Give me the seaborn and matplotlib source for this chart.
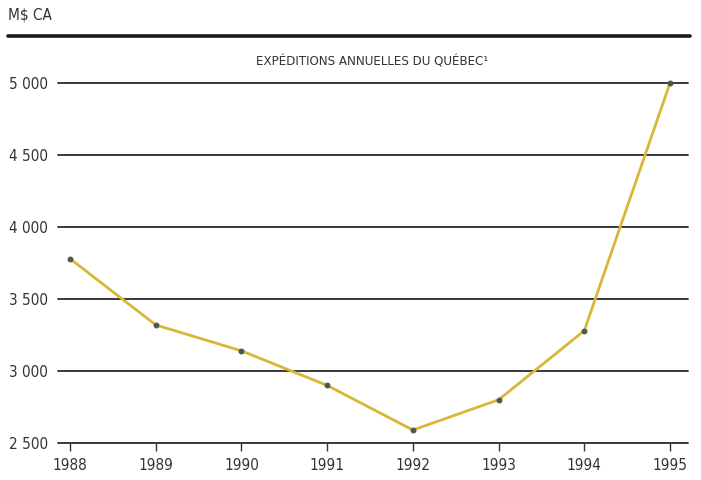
import pandas as pd
import seaborn as sns
import matplotlib.pyplot as plt

# data
years = [1988, 1989, 1990, 1991, 1992, 1993, 1994, 1995]
shipments = [3780, 3320, 3140, 2900, 2590, 2800, 3280, 5000]
y_ticks = [2500, 3000, 3500, 4000, 4500, 5000]
y_labels = ["2 500", "3 000", "3 500", "4 000", "4 500", "5 000"]

df = pd.DataFrame({"year": years, "value": shipments})

sns.set_style("white")
plt.rcParams['font.family'] = ['DejaVu Sans']
plt.rcParams['font.stretch'] = 'condensed'

fig = plt.figure(figsize=(7.01, 4.80), dpi=100)
ax = fig.add_axes([58 / 701, 37 / 480, 630 / 701, 360 / 480])

# horizontal grid lines
for v in y_ticks:
    ax.axhline(v, color='#2a2a2a', lw=1.3, zorder=1, clip_on=False)

sns.lineplot(data=df, x='year', y='value', ax=ax, color='#d8b735', lw=2,
             marker='o', markersize=3.5, markerfacecolor='#4a5a4a',
             markeredgecolor='#4a5a4a', zorder=3, clip_on=False)

ax.set_xlim(1987.86, 1995.21)
ax.set_ylim(2500, 5000)
ax.set_xticks(years)
ax.set_xticklabels([str(y) for y in years], fontsize=11, color='#333333', stretch='condensed')
ax.set_yticks(y_ticks)
ax.set_yticklabels(y_labels, fontsize=11, color='#333333', stretch='condensed')
ax.tick_params(axis='x', direction='out', length=6, width=1, color='#333333', pad=5, bottom=True)
ax.tick_params(axis='y', length=0, pad=7)
ax.set_xlabel('')
ax.set_ylabel('')
for s in ax.spines.values():
    s.set_visible(False)

# header: unit label, thick rule and title
fig.text(8 / 701, 1 - 15 / 480, "M$ CA", fontsize=11, color='#333333',
         va='center', ha='left', stretch='condensed')
fig.add_artist(plt.Line2D([8 / 701, 690 / 701], [1 - 36 / 480, 1 - 36 / 480],
                          color='#1a1a1a', lw=2.6))
fig.text(372 / 701, 1 - 62 / 480, "EXPÉDITIONS ANNUELLES DU QUÉBEC¹", fontsize=9.5,
         color='#333333', va='center', ha='center', stretch='condensed')

fig.savefig('out.png', dpi=100)
